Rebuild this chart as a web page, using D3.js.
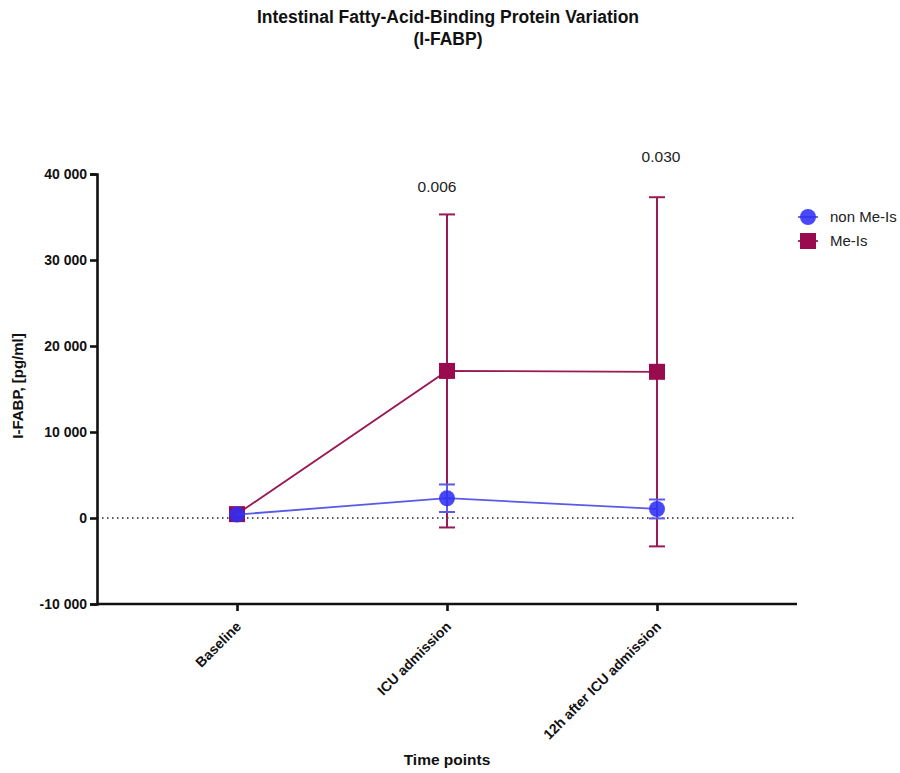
<!DOCTYPE html>
<html>
<head>
<meta charset="utf-8">
<script src="https://cdn.jsdelivr.net/npm/d3@7"></script>
<style>
  body { margin: 0; background: #fff; }
  svg text { font-family: "Liberation Sans", Arial, Helvetica, sans-serif; }
</style>
</head>
<body>
<svg id="chart" width="900" height="773"></svg>
<script>
// Time points and group summaries (mean ± SD, pg/ml)
const timePoints = ["Baseline", "ICU admission", "12h after ICU admission"];
const nonMeIsMean = [400, 2300, 1050];
const nonMeIsSD = [0, 1600, 1100];
const meIsMean = [450, 17100, 17000];
const meIsSD = [0, 18200, 20300];
const pValues = ["", "0.006", "0.030"];
const yTicks = [-10000, 0, 10000, 20000, 30000, 40000];

const svg = d3.select("#chart");
const plotLeft = 97, plotRight = 797, plotTop = 174, plotBottom = 604;

const x = d3.scalePoint().domain(timePoints).range([plotLeft, plotRight]).padding(0.6667);
const y = d3.scaleLinear().domain([-10000, 40000]).range([plotBottom, plotTop]);

const fmt = v => d3.format(",")(v).replace(/,/g, " ").replace("\u2212", "-");
const FONT = '"Liberation Sans", Arial, sans-serif';

// Title
svg.append("text").attr("x", 448).attr("y", 23).attr("text-anchor", "middle")
  .attr("font-size", 17.5).attr("font-weight", "bold").attr("fill", "#111")
  .text("Intestinal Fatty-Acid-Binding Protein Variation");
svg.append("text").attr("x", 448).attr("y", 45).attr("text-anchor", "middle")
  .attr("font-size", 17.5).attr("font-weight", "bold").attr("fill", "#111")
  .text("(I-FABP)");

// Zero reference line
svg.append("line").attr("x1", plotLeft).attr("x2", plotRight)
  .attr("y1", y(0)).attr("y2", y(0))
  .attr("stroke", "#222").attr("stroke-width", 1.5).attr("stroke-dasharray", "1.5,3.5");

// Y axis
const yAxis = svg.append("g").attr("transform", `translate(${plotLeft},0)`)
  .call(d3.axisLeft(y).tickValues(yTicks).tickFormat(fmt).tickSize(7).tickPadding(3));
yAxis.select(".domain").attr("stroke-width", 2.6).attr("stroke", "#111");
yAxis.selectAll(".tick line").attr("stroke-width", 2.6).attr("stroke", "#111");
yAxis.selectAll("text").attr("font-size", 14).attr("font-weight", "bold").attr("fill", "#111")
  .style("font-family", FONT);

// X axis
const xAxis = svg.append("g").attr("transform", `translate(0,${plotBottom})`)
  .call(d3.axisBottom(x).tickSize(7).tickSizeOuter(0));
xAxis.select(".domain").attr("stroke-width", 2.6).attr("stroke", "#111")
  .attr("d", `M${plotLeft},0H${plotRight}`);
xAxis.selectAll(".tick line").attr("stroke-width", 2.6).attr("stroke", "#111");
xAxis.selectAll("text")
  .attr("font-size", 14).attr("font-weight", "bold").attr("fill", "#111")
  .style("font-family", FONT)
  .attr("text-anchor", "end")
  .attr("transform", "translate(1,20) rotate(-45)")
  .attr("x", 0).attr("y", 0).attr("dy", "0.35em");

// Axis titles
svg.append("text").attr("transform", `translate(23,386) rotate(-90)`)
  .attr("text-anchor", "middle").attr("font-size", 15).attr("font-weight", "bold").attr("fill", "#111")
  .text("I-FABP, [pg/ml]");
svg.append("text").attr("x", 447).attr("y", 765).attr("text-anchor", "middle")
  .attr("font-size", 15.5).attr("font-weight", "bold").attr("fill", "#111")
  .text("Time points");

const series = [
  { name: "Me-Is", mean: meIsMean, sd: meIsSD, color: "#9a0a4e", line: "#9a1a58", shape: "square" },
  { name: "non Me-Is", mean: nonMeIsMean, sd: nonMeIsSD, color: "#2f2ff5", line: "#5a5ae6", shape: "circle" }
];

const lineGen = d3.line().x((d, i) => x(timePoints[i])).y(d => y(d));

series.forEach(s => {
  const g = svg.append("g");
  // error bars
  timePoints.forEach((t, i) => {
    if (!s.sd[i]) return;
    const cx = x(t), hi = y(s.mean[i] + s.sd[i]), lo = y(s.mean[i] - s.sd[i]);
    g.append("line").attr("x1", cx).attr("x2", cx).attr("y1", hi).attr("y2", lo)
      .attr("stroke", s.line).attr("stroke-width", 2);
    [hi, lo].forEach(yy => g.append("line").attr("x1", cx - 8).attr("x2", cx + 8)
      .attr("y1", yy).attr("y2", yy).attr("stroke", s.line).attr("stroke-width", 2));
  });
  g.append("path").datum(s.mean).attr("d", lineGen)
    .attr("fill", "none").attr("stroke", s.line).attr("stroke-width", 1.8);
  s.mean.forEach((v, i) => {
    const cx = x(timePoints[i]), cy = y(v);
    if (s.shape === "square") {
      g.append("rect").attr("x", cx - 8).attr("y", cy - 8).attr("width", 16).attr("height", 16)
        .attr("fill", s.color);
    } else {
      g.append("circle").attr("cx", cx).attr("cy", cy).attr("r", 8)
        .attr("fill", s.color).attr("fill-opacity", 0.88);
    }
  });
});

// p-values above the Me-Is error bars
const pShift = [[0, 0], [-10, -22], [4, -35]];
timePoints.forEach((t, i) => {
  if (!pValues[i]) return;
  svg.append("text").attr("x", x(t) + pShift[i][0])
    .attr("y", y(meIsMean[i] + meIsSD[i]) + pShift[i][1])
    .attr("text-anchor", "middle").attr("font-size", 15.5).attr("fill", "#222")
    .text(pValues[i]);
});

// Legend
const legend = [
  { name: "non Me-Is", s: series[1] },
  { name: "Me-Is", s: series[0] }
];
legend.forEach((d, i) => {
  const ly = 217 + i * 24, lx = 808;
  svg.append("line").attr("x1", lx - 10).attr("x2", lx + 10).attr("y1", ly).attr("y2", ly)
    .attr("stroke", d.s.line).attr("stroke-width", 1.8);
  if (d.s.shape === "square") {
    svg.append("rect").attr("x", lx - 8).attr("y", ly - 8).attr("width", 16).attr("height", 16)
      .attr("fill", d.s.color);
  } else {
    svg.append("circle").attr("cx", lx).attr("cy", ly).attr("r", 8)
      .attr("fill", d.s.color).attr("fill-opacity", 0.88);
  }
  svg.append("text").attr("x", 830).attr("y", ly + 5).attr("font-size", 15).attr("fill", "#222")
    .text(d.name);
});
</script>
</body>
</html>
